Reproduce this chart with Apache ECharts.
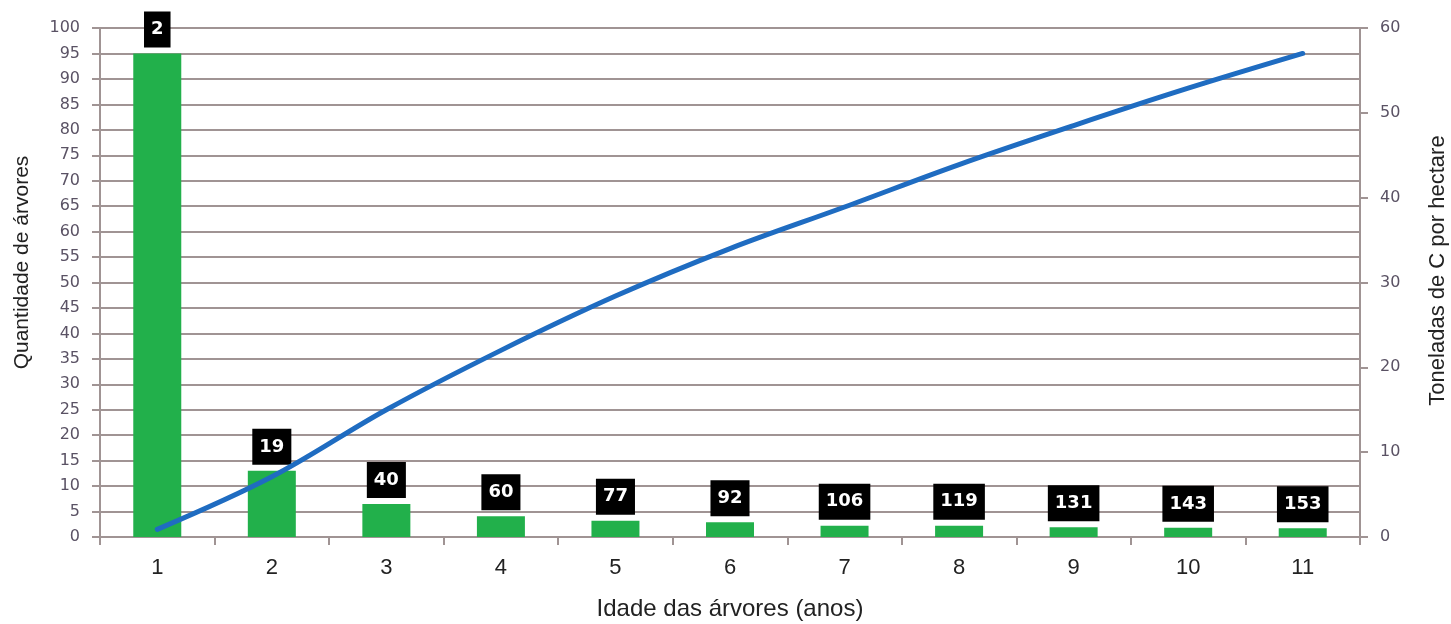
<!DOCTYPE html>
<html>
<head>
<meta charset="utf-8">
<script src="https://cdn.jsdelivr.net/npm/echarts@6/dist/echarts.min.js"></script>
<style>
  html, body { margin: 0; padding: 0; background: #ffffff; }
  #chart { width: 1451px; height: 624px; }
</style>
</head>
<body>
<div id="chart"></div>
<script>
// Tree age in years
const ages = ['1', '2', '3', '4', '5', '6', '7', '8', '9', '10', '11'];
// Number of trees (left axis)
const treeCount = [95, 13, 6.5, 4.1, 3.2, 2.9, 2.2, 2.2, 1.9, 1.8, 1.7];
// Tonnes of carbon per hectare (right axis)
const carbonPerHa = [0.9, 7.1, 15.0, 22.0, 28.4, 34.0, 38.9, 43.9, 48.5, 52.9, 57.0];
// Boxed figures printed above each bar
const boxLabels = ['2', '19', '40', '60', '77', '92', '106', '119', '131', '143', '153'];

const gridColor = '#a09494';
const tickTextColor = '#5a5264';

const chart = echarts.init(document.getElementById('chart'));
chart.setOption({
  animation: false,
  backgroundColor: '#ffffff',
  grid: { left: 100, right: 91, top: 28, bottom: 87, containLabel: false, outerBoundsMode: 'none' },
  xAxis: {
    type: 'category',
    data: ages,
    boundaryGap: true,
    name: 'Idade das árvores (anos)',
    nameLocation: 'middle',
    nameGap: 60,
    nameTextStyle: { fontFamily: 'Liberation Sans', fontSize: 24, color: '#222222' },
    axisLine: { lineStyle: { color: gridColor, width: 2 } },
    axisTick: { show: true, length: 8, lineStyle: { color: gridColor, width: 2 } },
    axisLabel: { margin: 20, fontFamily: 'Liberation Sans', fontSize: 22, color: '#222222' }
  },
  yAxis: [
    {
      type: 'value',
      position: 'left',
      min: 0, max: 100, interval: 5,
      name: 'Quantidade de árvores',
      nameLocation: 'middle',
      nameGap: 67,
      nameRotate: 90,
      // left padding lifts the rotated title slightly above the axis centre
      nameTextStyle: { fontFamily: 'Liberation Sans', fontSize: 21, color: '#222222', padding: [0, 0, 0, 40] },
      axisLine: { show: true, lineStyle: { color: gridColor, width: 2 } },
      axisTick: { show: true, length: 8, lineStyle: { color: gridColor, width: 2 } },
      axisLabel: { margin: 20, fontFamily: 'DejaVu Sans', fontSize: 16, color: tickTextColor },
      splitLine: { show: true, lineStyle: { color: gridColor, width: 2 } }
    },
    {
      type: 'value',
      position: 'right',
      min: 0, max: 60, interval: 10,
      name: 'Toneladas de C por hectare',
      nameLocation: 'middle',
      nameGap: 67,
      nameRotate: 90,
      nameTextStyle: { fontFamily: 'Liberation Sans', fontSize: 22, color: '#222222', padding: [0, 0, 0, 24] },
      axisLine: { show: true, lineStyle: { color: gridColor, width: 2 } },
      axisTick: { show: true, length: 8, lineStyle: { color: gridColor, width: 2 } },
      axisLabel: { margin: 20, fontFamily: 'DejaVu Sans', fontSize: 16, color: tickTextColor },
      splitLine: { show: false }
    }
  ],
  series: [
    {
      name: 'Quantidade de árvores',
      type: 'bar',
      yAxisIndex: 0,
      data: treeCount,
      barWidth: 48,
      itemStyle: { color: '#22b04b' },
      label: {
        show: true,
        position: 'top',
        distance: 6,
        formatter: (p) => boxLabels[p.dataIndex],
        backgroundColor: '#000000',
        color: '#ffffff',
        fontFamily: 'DejaVu Sans',
        fontWeight: 'bold',
        fontSize: 18,
        lineHeight: 20,
        padding: [8, 7, 8, 7]
      },
      z: 2
    },
    {
      name: 'Toneladas de C por hectare',
      type: 'line',
      yAxisIndex: 1,
      data: carbonPerHa,
      smooth: 0.35,
      symbol: 'none',
      lineStyle: { color: '#1f6cc1', width: 5, cap: 'round' },
      z: 3
    }
  ]
});
</script>
</body>
</html>
